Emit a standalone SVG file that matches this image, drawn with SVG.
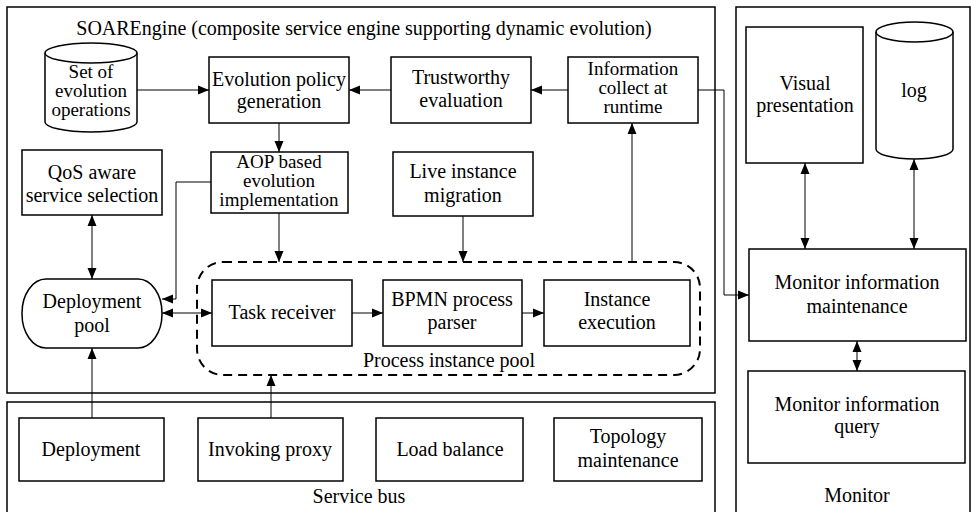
<svg xmlns="http://www.w3.org/2000/svg" width="971" height="512" viewBox="0 0 971 512">
<style>
.box{fill:#fff;stroke:#000;stroke-width:1.5}
.frame{fill:none;stroke:#000;stroke-width:1.5}
.pool{fill:none;stroke:#000;stroke-width:2;stroke-dasharray:9,6}
.t{font-family:"Liberation Serif","Times New Roman",serif;font-size:20px;fill:#000;text-anchor:middle}
.s{font-size:19px}
.c{fill:none;stroke:#000;stroke-width:1}
.c1{marker-end:url(#ah)}
.c2{marker-start:url(#ah);marker-end:url(#ah)}
</style>
<defs>
<marker id="ah" markerUnits="userSpaceOnUse" markerWidth="12" markerHeight="10" viewBox="0 0 12 10" refX="11" refY="5" orient="auto-start-reverse">
<path d="M0,0.5 L11,5 L0,9.5 Z" fill="#000"/>
</marker>
</defs>
<rect width="971" height="512" fill="#fff"/>

<g id="soarengine">
<rect class="frame" x="7" y="7" width="708" height="386"/>
<text class="t" x="364" y="35">SOAREngine (composite service engine supporting dynamic evolution)</text>
</g>
<g id="servicebus">
<rect class="frame" x="7" y="402" width="708" height="115"/>
<text class="t" x="359" y="503">Service bus</text>
</g>
<g id="monitor">
<rect class="frame" x="736" y="7" width="234" height="510"/>
<text class="t" x="857" y="502">Monitor</text>
</g>

<g id="setops">
<path class="box" d="M45,53 A46,10 0 0 1 137,53 L137,122 A46,10 0 0 1 45,122 Z"/>
<path class="frame" d="M45,53 A46,10 0 0 0 137,53"/>
<text class="t s" x="91" y="78">Set of</text>
<text class="t s" x="91" y="97">evolution</text>
<text class="t s" x="91" y="116">operations</text>
</g>
<g id="evopolicy">
<rect class="box" x="209" y="57" width="140" height="66"/>
<text class="t" x="279" y="86">Evolution policy</text>
<text class="t" x="279" y="108">generation</text>
</g>
<g id="trust">
<rect class="box" x="391" y="57" width="140" height="66"/>
<text class="t" x="461" y="84">Trustworthy</text>
<text class="t" x="461" y="107">evaluation</text>
</g>
<g id="infocollect">
<rect class="box" x="568" y="57" width="130" height="66"/>
<text class="t s" x="633" y="75">Information</text>
<text class="t s" x="633" y="94">collect at</text>
<text class="t s" x="633" y="113">runtime</text>
</g>
<g id="qos">
<rect class="box" x="22" y="150" width="140" height="65"/>
<text class="t" x="92" y="179">QoS aware</text>
<text class="t" x="92" y="202">service selection</text>
</g>
<g id="aop">
<rect class="box" x="211" y="152" width="137" height="61"/>
<text class="t s" x="279" y="168">AOP based</text>
<text class="t s" x="279" y="187">evolution</text>
<text class="t s" x="279" y="206">implementation</text>
</g>
<g id="migration">
<rect class="box" x="393" y="152" width="140" height="64"/>
<text class="t" x="463" y="178">Live instance</text>
<text class="t" x="463" y="202">migration</text>
</g>
<g id="deploypool">
<rect class="box" x="22" y="279" width="140" height="69" rx="24" ry="34"/>
<text class="t" x="92" y="308">Deployment</text>
<text class="t" x="92" y="332">pool</text>
</g>
<g id="processpool">
<rect class="pool" x="197" y="262" width="503" height="113" rx="26" ry="26"/>
<text class="t" x="449" y="367">Process instance pool</text>
</g>
<g id="taskreceiver">
<rect class="box" x="212" y="280" width="140" height="66"/>
<text class="t" x="282" y="319">Task receiver</text>
</g>
<g id="bpmn">
<rect class="box" x="383" y="280" width="139" height="66"/>
<text class="t" x="452" y="306">BPMN process</text>
<text class="t" x="452" y="329">parser</text>
</g>
<g id="instexec">
<rect class="box" x="544" y="280" width="146" height="66"/>
<text class="t" x="617" y="306">Instance</text>
<text class="t" x="617" y="329">execution</text>
</g>
<g id="deployment">
<rect class="box" x="19" y="418" width="145" height="63"/>
<text class="t" x="91" y="456">Deployment</text>
</g>
<g id="invoking">
<rect class="box" x="198" y="418" width="145" height="63"/>
<text class="t" x="270" y="456">Invoking proxy</text>
</g>
<g id="loadbalance">
<rect class="box" x="376" y="418" width="147" height="63"/>
<text class="t" x="450" y="456">Load balance</text>
</g>
<g id="topology">
<rect class="box" x="554" y="418" width="148" height="63"/>
<text class="t" x="628" y="443">Topology</text>
<text class="t" x="628" y="467">maintenance</text>
</g>
<g id="visual">
<rect class="box" x="746" y="27" width="117" height="136"/>
<text class="t" x="805" y="90">Visual</text>
<text class="t" x="805" y="112">presentation</text>
</g>
<g id="log">
<path class="box" d="M876,32 A38.5,10 0 0 1 953,32 L953,149 A38.5,10 0 0 1 876,149 Z"/>
<path class="frame" d="M876,32 A38.5,10 0 0 0 953,32"/>
<text class="t" x="914" y="97">log</text>
</g>
<g id="monmaint">
<rect class="box" x="749" y="249" width="217" height="92"/>
<text class="t" x="857" y="289">Monitor information</text>
<text class="t" x="857" y="313">maintenance</text>
</g>
<g id="monquery">
<rect class="box" x="748" y="371" width="217" height="92"/>
<text class="t" x="857" y="411">Monitor information</text>
<text class="t" x="857" y="433">query</text>
</g>

<g id="connectors">
<path class="c c1" d="M137,90 H209"/>
<path class="c c1" d="M391,90 H349"/>
<path class="c c1" d="M568,90 H531"/>
<path class="c c1" d="M279,123 V152"/>
<path class="c c1" d="M211,182 H176 V299 H162"/>
<path class="c c1" d="M279,213 V262"/>
<path class="c c1" d="M463,216 V262"/>
<path class="c c1" d="M632,262 V123"/>
<path class="c c1" d="M698,90 H724 V295 H749"/>
<path class="c c2" d="M92,215 V279"/>
<path class="c c2" d="M162,313 H212"/>
<path class="c c1" d="M352,313 H383"/>
<path class="c c1" d="M522,313 H544"/>
<path class="c c1" d="M92,418 V348"/>
<path class="c c1" d="M271,418 V375"/>
<path class="c c2" d="M805,163 V249"/>
<path class="c c2" d="M914,159 V249"/>
<path class="c c2" d="M857,341 V371"/>
</g>
</svg>
